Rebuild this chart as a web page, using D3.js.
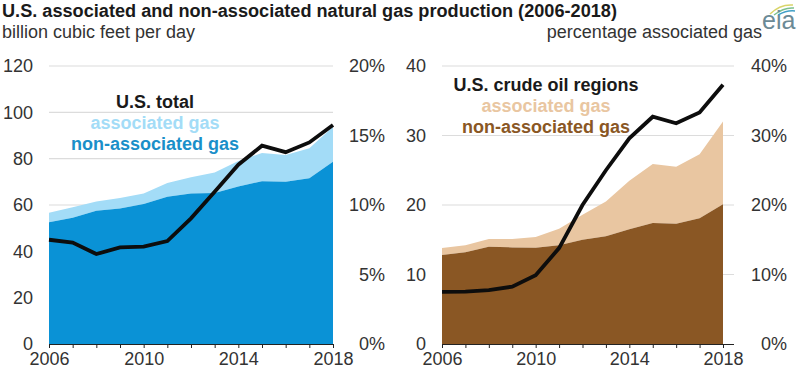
<!DOCTYPE html>
<html>
<head>
<meta charset="utf-8">
<script src="https://cdnjs.cloudflare.com/ajax/libs/d3/7.8.5/d3.min.js"></script>
<style>
  html, body { margin: 0; padding: 0; background: #fff; }
  svg { display: block; }
  text { font-family: "Liberation Sans", Arial, sans-serif; }
</style>
</head>
<body>
<svg id="chart" width="800" height="377"></svg>
<script>
const years = [2006, 2007, 2008, 2009, 2010, 2011, 2012, 2013, 2014, 2015, 2016, 2017, 2018];
const yearTicks = [2006, 2010, 2014, 2018];

// billion cubic feet per day
const usNonAssociated = [52.6, 54.5, 57.5, 58.5, 60.4, 63.6, 65, 65.2, 68, 70.3, 70, 71.5, 78.7];
const usTotal = [56.7, 59, 61.5, 63, 65, 69.5, 72, 74, 79, 82.4, 81.6, 84.5, 93.8];
const usPercent = [7.5, 7.3, 6.47, 6.95, 7.0, 7.4, 9.04, 10.96, 12.9, 14.27, 13.8, 14.5, 15.75];

const oilNonAssociated = [12.8, 13.2, 14, 13.9, 13.85, 14.2, 15, 15.5, 16.5, 17.4, 17.3, 18.1, 20.1];
const oilTotal = [13.8, 14.2, 15.1, 15.1, 15.4, 16.6, 18.6, 20.5, 23.5, 25.9, 25.5, 27.3, 32];
const oilPercent = [7.5, 7.55, 7.75, 8.25, 9.9, 13.8, 20, 25, 29.6, 32.7, 31.75, 33.3, 37.3];

const svg = d3.select("#chart");
const textColor = "#333333";
const plotTop = 66, plotBottom = 344;

function addPanel(opt) {
  const x = d3.scaleLinear().domain([2006, 2018]).range([opt.x0, opt.x1]);
  const y = d3.scaleLinear().domain([0, opt.leftMax]).range([plotBottom, plotTop]);
  const yPct = d3.scaleLinear().domain([0, opt.pctMax]).range([plotBottom, plotTop]);
  const g = svg.append("g");

  // gridlines
  g.selectAll(".grid").data(opt.leftTicks.filter(d => d > 0)).join("line")
    .attr("x1", opt.x0).attr("x2", opt.gridEnd)
    .attr("y1", d => y(d)).attr("y2", d => y(d))
    .attr("stroke", "#dcdcdc").attr("stroke-width", 1.2);

  const area = (lo, hi) => d3.area()
    .x((d, i) => x(years[i]))
    .y0((d, i) => y(lo ? lo[i] : 0))
    .y1((d, i) => y(hi[i]));

  g.append("path").datum(years).attr("d", area(opt.non, opt.total)).attr("fill", opt.topColor);
  g.append("path").datum(years).attr("d", area(null, opt.non)).attr("fill", opt.bottomColor);

  g.append("path").datum(opt.pct)
    .attr("d", d3.line().x((d, i) => x(years[i])).y(d => yPct(d)))
    .attr("fill", "none").attr("stroke", "#0d0d0d").attr("stroke-width", 3.8)
    .attr("stroke-linejoin", "miter");

  // x axis with a tick on every year, labels only on some
  const xAxis = d3.axisBottom(x).tickValues(years).tickSize(4)
    .tickFormat(d => yearTicks.includes(d) ? d : "");
  const gx = g.append("g").attr("transform", "translate(0," + plotBottom + ")").call(xAxis);
  gx.select(".domain").attr("d", "M" + opt.x0 + ",0.5H" + opt.axisEnd).attr("stroke", "#222");
  gx.selectAll(".tick line").attr("stroke", "#222");
  gx.selectAll(".tick text").attr("y", 8).attr("dy", "0.71em")
    .attr("font-size", 18).attr("font-family", "Liberation Sans").attr("fill", textColor);

  // value labels either side
  g.selectAll(".left").data(opt.leftTicks).join("text")
    .attr("x", opt.leftLabelX).attr("y", d => y(d)).attr("dy", "0.35em")
    .attr("text-anchor", "end").attr("font-size", 18).attr("fill", textColor).text(d => d);
  g.selectAll(".right").data(opt.pctTicks).join("text")
    .attr("x", opt.rightLabelX).attr("y", d => yPct(d)).attr("dy", "0.35em")
    .attr("text-anchor", "end").attr("font-size", 18).attr("fill", textColor).text(d => d + "%");

  // direct labels
  opt.labels.forEach(l => {
    g.append("text").attr("x", opt.labelX).attr("y", l.y).attr("text-anchor", "middle")
      .attr("font-size", 18).attr("font-weight", "bold").attr("fill", l.color).text(l.text);
  });
}

addPanel({
  x0: 49, x1: 333, gridEnd: 333, axisEnd: 333,
  leftMax: 120, pctMax: 20,
  leftTicks: [0, 20, 40, 60, 80, 100, 120],
  pctTicks: [0, 5, 10, 15, 20],
  leftLabelX: 33, rightLabelX: 385,
  non: usNonAssociated, total: usTotal, pct: usPercent,
  topColor: "#a3dcf7", bottomColor: "#0a92d6",
  labelX: 155,
  labels: [
    { text: "U.S. total", y: 108, color: "#1a1a1a" },
    { text: "associated gas", y: 129, color: "#a3dcf7" },
    { text: "non-associated gas", y: 150, color: "#1a8fc9" }
  ]
});

addPanel({
  x0: 442, x1: 723, gridEnd: 734, axisEnd: 734,
  leftMax: 40, pctMax: 40,
  leftTicks: [0, 10, 20, 30, 40],
  pctTicks: [0, 10, 20, 30, 40],
  leftLabelX: 426, rightLabelX: 787,
  non: oilNonAssociated, total: oilTotal, pct: oilPercent,
  topColor: "#e9c6a1", bottomColor: "#8a5724",
  labelX: 546,
  labels: [
    { text: "U.S. crude oil regions", y: 91, color: "#1a1a1a" },
    { text: "associated gas", y: 112, color: "#e9c6a1" },
    { text: "non-associated gas", y: 133, color: "#8a5724" }
  ]
});

// titles
svg.append("text").attr("x", 2).attr("y", 17).attr("font-size", 18.15).attr("font-weight", "bold")
  .attr("fill", "#1a1a1a").text("U.S. associated and non-associated natural gas production (2006-2018)");
svg.append("text").attr("x", 2).attr("y", 38).attr("font-size", 18).attr("fill", textColor)
  .text("billion cubic feet per day");
svg.append("text").attr("x", 762).attr("y", 38).attr("text-anchor", "end").attr("font-size", 18).attr("fill", textColor)
  .text("percentage associated gas");

// eia logo
const logo = svg.append("g");
logo.append("path").attr("d", "M770,14 Q780,4 793,5").attr("fill", "none").attr("stroke", "#d9d56a").attr("stroke-width", 1.5);
logo.append("path").attr("d", "M774,15 Q784,7 794,8").attr("fill", "none").attr("stroke", "#7cc08f").attr("stroke-width", 1.5);
logo.append("path").attr("d", "M778,15 Q787,10 795,11").attr("fill", "none").attr("stroke", "#3f9fc6").attr("stroke-width", 1.5);
logo.append("text").attr("x", 762).attr("y", 29).attr("font-family", "Liberation Serif").attr("font-size", 25)
  .attr("fill", "#6b8a96").text("eia");
</script>
</body>
</html>
